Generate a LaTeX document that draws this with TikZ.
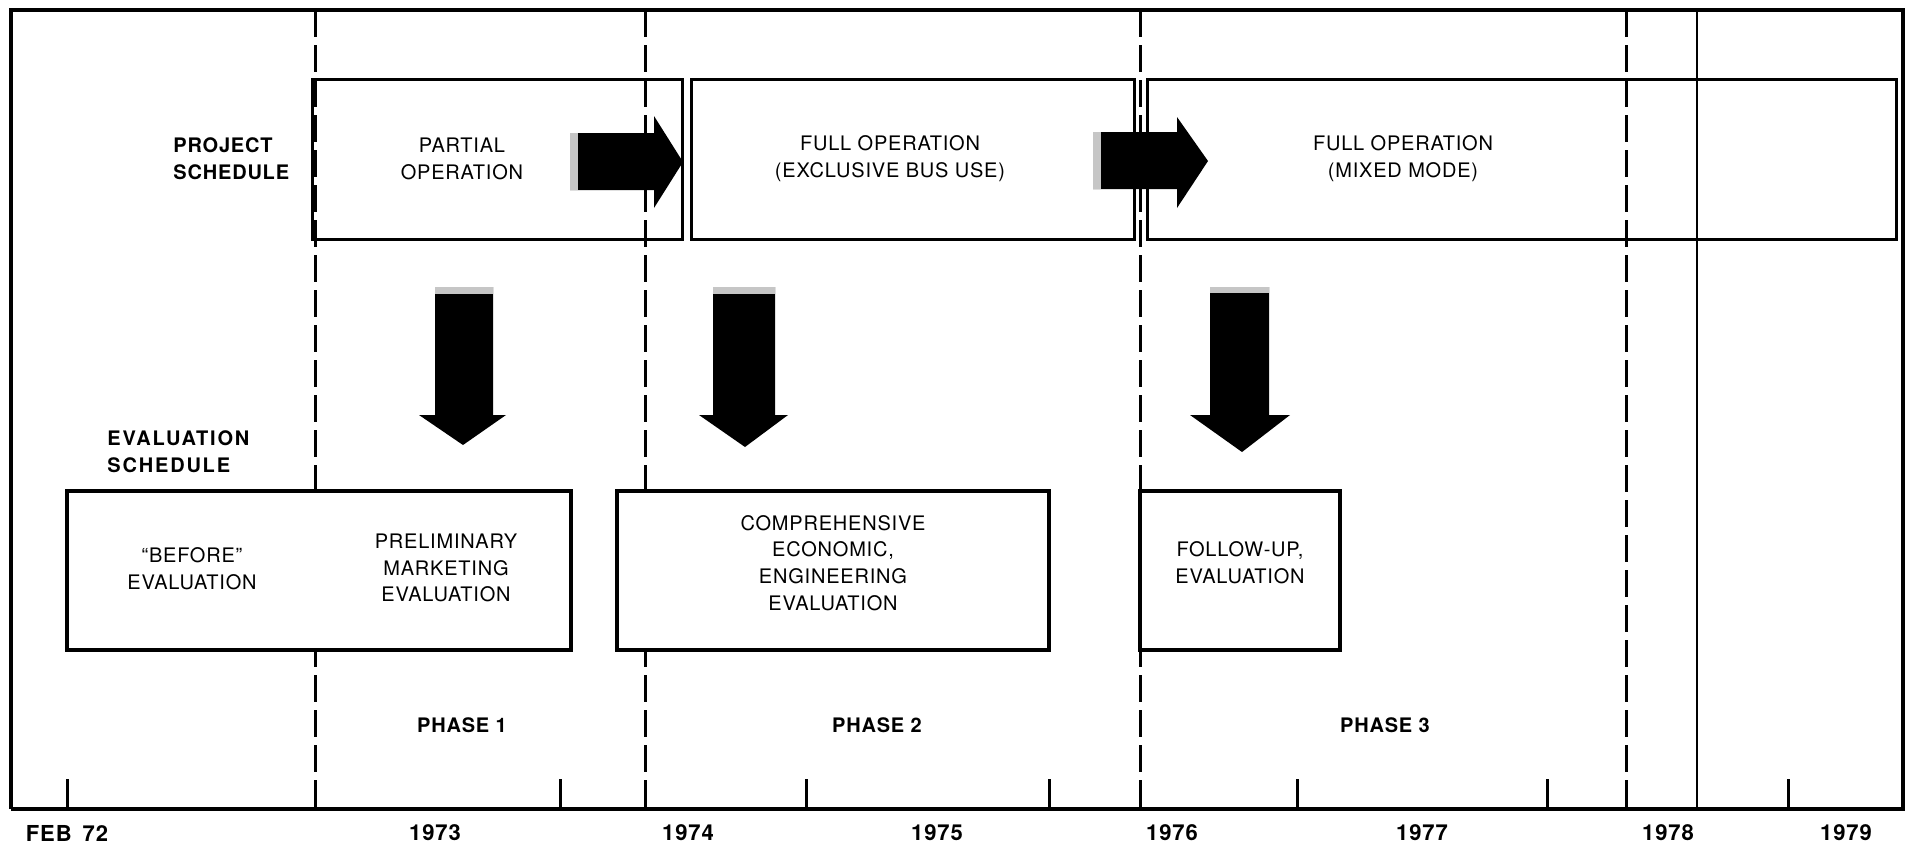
\documentclass[tikz,border=0pt]{standalone}
\usepackage{fontspec}
\setmainfont{TeX Gyre Heros}[LetterSpace=4]
\usetikzlibrary{fit, positioning}

\begin{document}
\begin{tikzpicture}[
    x=0.5pt, y=-0.5pt,
    frameline/.style={line width=1.6pt},
    yearline/.style={line width=1.5pt, dash pattern=on 13.5pt off 4pt},
    tickline/.style={line width=1.5pt},
    projbox/.style={draw, line width=1.5pt, inner sep=0pt},
    evalbox/.style={draw, fill=white, line width=1.6pt, inner sep=0pt, font=\fontsize{10}{13.4}\selectfont, align=center},
    boxtext/.style={font=\fontsize{10}{13.4}\selectfont, align=center, inner sep=0pt},
    rowlabel/.style={font=\fontsize{10}{13.4}\selectfont\bfseries, align=left, inner sep=0pt, anchor=west},
    phaselabel/.style={font=\fontsize{10}{12}\selectfont\bfseries, inner sep=0pt},
    yearlabel/.style={font=\fontsize{11}{12}\selectfont\bfseries, inner sep=0pt},
    blockarrow/.style={fill=black},
    stipple/.style={fill=gray!45}
  ]
  \useasboundingbox (0,0) rectangle (1906,847);

  % frame and time axis
  \draw[frameline] (11,809) -- (11,10) -- (1903,10) -- (1903,809);
  \draw[line width=2.4pt] (11,809) -- (1905,809);
  \foreach \x in {315,645,1140,1626}
    \draw[yearline] (\x,10) -- (\x,809);
  \draw[line width=0.8pt] (1697,10) -- (1697,809);
  \foreach \x in {67,560,806,1049,1297,1547,1788}
    \draw[tickline] (\x,779) -- (\x,809);

  % project schedule
  \node[projbox, fit={(312,79) (682,239)}] (pb1) {};
  \node[projbox, fit={(691,79) (1134,239)}] (pb2) {};
  \node[projbox, fit={(1147,79) (1896,239)}] (pb3) {};
  \node[rowlabel] (projlabel) at (173,159) {PROJECT\\SCHEDULE};
  \node[boxtext] (partial) at (462,159) {PARTIAL\\OPERATION};
  \node[boxtext] (exclusive) at (890,159) {FULL OPERATION\\(EXCLUSIVE BUS USE)};
  \node[boxtext] (mixed) at (1403,159) {FULL OPERATION\\(MIXED MODE)};

  % evaluation schedule
  \node[rowlabel, font=\fontsize{10}{13.4}\selectfont\bfseries\addfontfeatures{LetterSpace=9}] (evallabel) at (107,452) {EVALUATION\\SCHEDULE};
  \node[evalbox, fit={(67,491) (571,650)}] (eb1) {};
  \node[boxtext] (before) at (192,569) {``BEFORE''\\EVALUATION};
  \node[boxtext] (prelim) at (446,568) {PRELIMINARY\\MARKETING\\EVALUATION};
  \node[evalbox, fit={(617,491) (1049,650)}] (eb2) {COMPREHENSIVE\\ECONOMIC,\\ENGINEERING\\EVALUATION};
  \node[evalbox, fit={(1140,491) (1340,650)}] (eb3) {FOLLOW-UP,\\EVALUATION};

  % block arrows
  \fill[blockarrow] (570,133) -- (654,133) -- (654,116) -- (683,162) -- (654,208) -- (654,190) -- (570,190) -- cycle;
  \fill[stipple] (570,133) rectangle (578,190);
  \fill[blockarrow] (1093,132) -- (1177,132) -- (1177,117) -- (1208,161) -- (1177,208) -- (1177,189) -- (1093,189) -- cycle;
  \fill[stipple] (1093,132) rectangle (1101,189);

  \fill[blockarrow] (435,287) -- (493,287) -- (493,415) -- (506,415) -- (463,445) -- (419,415) -- (435,415) -- cycle;
  \fill[stipple] (435,287) rectangle (493,294);
  \fill[blockarrow] (713,287) -- (775,287) -- (775,415) -- (788,415) -- (745,447) -- (699,415) -- (713,415) -- cycle;
  \fill[stipple] (713,287) rectangle (775,294);
  \fill[blockarrow] (1210,287) -- (1269,287) -- (1269,415) -- (1290,415) -- (1242,452) -- (1190,415) -- (1210,415) -- cycle;
  \fill[stipple] (1210,287) rectangle (1269,293);

  % phases
  \node[phaselabel] (phase1) at (462,725) {PHASE 1};
  \node[phaselabel] (phase2) at (877,725) {PHASE 2};
  \node[phaselabel] (phase3) at (1385,725) {PHASE 3};

  % years
  \node[yearlabel] (feb72) at (67,833) {FEB\enspace 72};
  \node[yearlabel] (y73) at (435,833) {1973};
  \node[yearlabel] (y74) at (688,833) {1974};
  \node[yearlabel] (y75) at (937,833) {1975};
  \node[yearlabel] (y76) at (1172,833) {1976};
  \node[yearlabel] (y77) at (1422,833) {1977};
  \node[yearlabel] (y78) at (1668,833) {1978};
  \node[yearlabel] (y79) at (1846,833) {1979};
\end{tikzpicture}
\end{document}
